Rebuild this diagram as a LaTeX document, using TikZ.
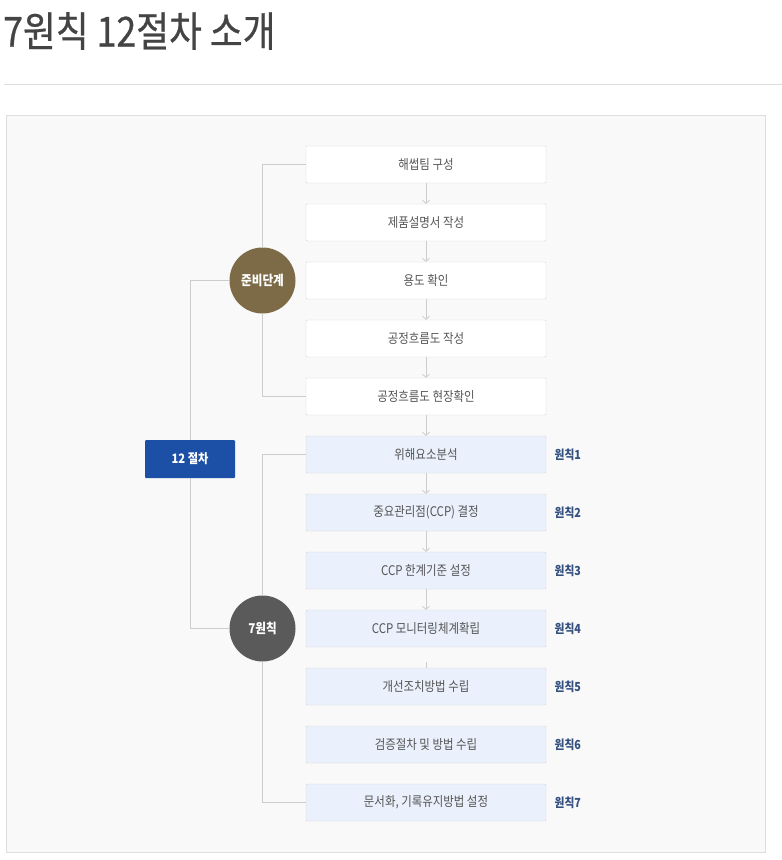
\documentclass[tikz,border=0pt]{standalone}
\usepackage{fontspec}
\newfontfamily\kr[FakeStretch=0.86]{Noto Sans CJK KR}
\newfontfamily\krhead[FakeStretch=0.86,FakeBold=0.6]{Noto Sans CJK KR}
\usetikzlibrary{arrows.meta}
\definecolor{titlegrey}{HTML}{444444}
\definecolor{rulegrey}{HTML}{DDDDDD}
\definecolor{panelbg}{HTML}{F9F9F9}
\definecolor{boxline}{HTML}{D4D4D4}
\definecolor{boxtext}{HTML}{555555}
\definecolor{ruleblue}{HTML}{EAF1FC}
\definecolor{labelblue}{HTML}{34507F}
\definecolor{linegrey}{HTML}{CCCCCC}
\definecolor{prepbrown}{HTML}{7D6B48}
\definecolor{sevengrey}{HTML}{5A5A5A}
\definecolor{totalblue}{HTML}{1C50A6}
\begin{document}
\begin{tikzpicture}[x=1pt,y=-1pt,
  every node/.style={font=\kr},
  stepbox/.style={draw=boxline,fill=white,rounded corners=1pt,minimum width=240pt,minimum height=37pt,inner sep=0pt,text=boxtext,font=\kr\fontsize{13.3}{15}\selectfont},
  rulebox/.style={stepbox,fill=ruleblue},
  rulelabel/.style={anchor=west,inner sep=0pt,text=labelblue,font=\kr\bfseries\fontsize{12.5}{14}\selectfont},
  phase/.style={circle,minimum size=66pt,inner sep=0pt,text=white,font=\kr\bfseries\fontsize{13.5}{15}\selectfont},
  link/.style={draw=linegrey,line width=0.8pt},
  flow/.style={link,-{Straight Barb[length=3pt,width=7pt]}}]
  \useasboundingbox (0,0) rectangle (782,860);
  \node[anchor=west,inner sep=0pt,text=titlegrey,font=\krhead\fontsize{41.5}{45}\selectfont] (title) at (3,31) {7원칙 12절차 소개};
  \draw[rulegrey,line width=0.8pt] (4,84) -- (782,84);
  \draw[fill=panelbg,draw=rulegrey,line width=0.8pt] (6.5,115.5) rectangle (765.5,852.5);
  \foreach \i/\t in {1/해썹팀 구성, 2/제품설명서 작성, 3/용도 확인, 4/공정흐름도 작성, 5/공정흐름도 현장확인}
    \node[stepbox] (s\i) at (426,{106.5+58*\i}) {\t};
  \foreach \i/\t [count=\n] in {6/위해요소분석, 7/중요관리점(CCP) 결정, 8/CCP 한계기준 설정, 9/CCP 모니터링체계확립, 10/개선조치방법 수립, 11/검증절차 및 방법 수립, 12/{문서화, 기록유지방법 설정}} {
    \node[rulebox] (s\i) at (426,{106.5+58*\i}) {\t};
    \node[rulelabel] (p\n) at (554.5,{106.5+58*\i}) {원칙\n};
  }
  \foreach \i [evaluate=\i as \j using int(\i+1)] in {1,...,8}
    \draw[flow] (s\i) -- (s\j);
  \coordinate (tick) at (426,662);
  \draw[link] (tick) -- (s10.north);
  \node[phase,fill=prepbrown] (prep) at (262.5,280.5) {준비단계};
  \node[phase,fill=sevengrey] (seven) at (262.5,628.5) {7원칙};
  \node[fill=totalblue,rounded corners=1pt,minimum width=90pt,minimum height=38pt,inner sep=0pt,text=white,font=\kr\bfseries\fontsize{13}{15}\selectfont] (total) at (190,459) {12 절차};
  \draw[link] (s1.west) -| (prep) |- (s5.west);
  \draw[link] (s6.west) -| (seven) |- (s12.west);
  \draw[link] (prep.west) -| (total) |- (seven.west);
\end{tikzpicture}
\end{document}
